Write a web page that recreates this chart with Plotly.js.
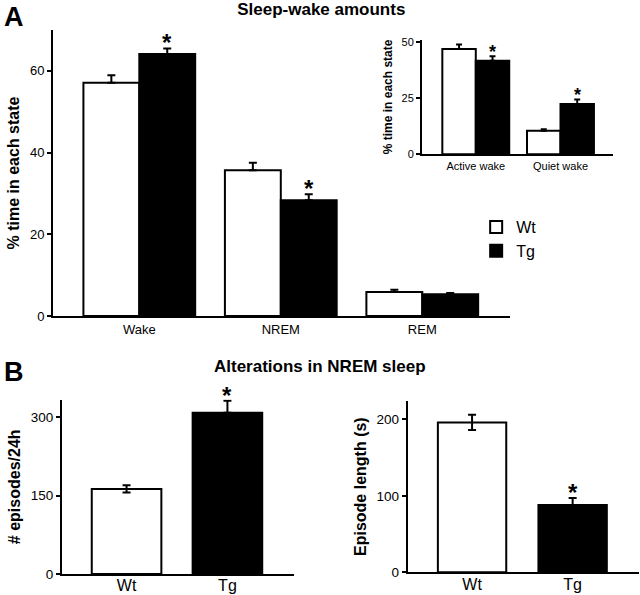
<!DOCTYPE html>
<html>
<head>
<meta charset="utf-8">
<script src="https://cdn.plot.ly/plotly-3.0.1.min.js"></script>
<style>html,body{margin:0;padding:0;background:#fff;}#chart{width:640px;height:595px;}</style>
</head>
<body>
<div id="chart"></div>
<script>
// ---- Panel A: sleep-wake amounts (% time in each state) ----
const statesA = ['Wake', 'NREM', 'REM'];
const wtA = [57.1, 35.7, 5.9];
const wtAErr = [1.8, 1.8, 0.5];
const tgA = [64.1, 28.3, 5.3];
const tgAErr = [1.4, 1.5, 0.3];
const sigA = [true, true, false];

// ---- Panel A inset: wake subtypes ----
const wakeTypes = ['Active wake', 'Quiet wake'];
const wtInset = [46.8, 10.5];
const wtInsetErr = [2.0, 0.6];
const tgInset = [41.6, 22.3];
const tgInsetErr = [2.0, 2.1];
const sigInset = [true, true];

// ---- Panel B: NREM alterations ----
const groupsB = ['Wt', 'Tg'];
const episodes = [163, 309];
const episodesErr = [7, 23];
const episodesErrMinus = [7, 0];
const epLength = [196, 88];
const epLengthErr = [10, 9];
const epLengthErrMinus = [10, 0];
const sigB = [false, true];

const FONT = 'Liberation Sans, Arial, Helvetica, sans-serif';
const zeros = a => a.map(() => 0);

function errUp(arr, minus, w) {
  return {type: 'data', array: arr, arrayminus: minus || zeros(arr), symmetric: false,
          color: 'black', thickness: 2, width: w || 4, visible: true};
}

const traces = [
  {type: 'bar', name: 'Wt', x: statesA, y: wtA, xaxis: 'x', yaxis: 'y',
   marker: {color: 'white', line: {color: 'black', width: 2}},
   error_y: errUp(wtAErr), showlegend: true, hoverinfo: 'skip'},
  {type: 'bar', name: 'Tg', x: statesA, y: tgA, xaxis: 'x', yaxis: 'y',
   marker: {color: 'black', line: {color: 'black', width: 2}},
   error_y: errUp(tgAErr), showlegend: true, hoverinfo: 'skip'},
  {type: 'bar', name: 'Wt', x: wakeTypes, y: wtInset, xaxis: 'x2', yaxis: 'y2',
   marker: {color: 'white', line: {color: 'black', width: 2}},
   error_y: errUp(wtInsetErr, null, 3), showlegend: false, hoverinfo: 'skip'},
  {type: 'bar', name: 'Tg', x: wakeTypes, y: tgInset, xaxis: 'x2', yaxis: 'y2',
   marker: {color: 'black', line: {color: 'black', width: 2}},
   error_y: errUp(tgInsetErr, null, 3), showlegend: false, hoverinfo: 'skip'},
  {type: 'bar', x: groupsB, y: episodes, xaxis: 'x3', yaxis: 'y3', width: 0.69,
   marker: {color: ['white', 'black'], line: {color: 'black', width: 2}},
   error_y: errUp(episodesErr, episodesErrMinus), showlegend: false, hoverinfo: 'skip'},
  {type: 'bar', x: groupsB, y: epLength, xaxis: 'x4', yaxis: 'y4', width: 0.68,
   marker: {color: ['white', 'black'], line: {color: 'black', width: 2}},
   error_y: errUp(epLengthErr, epLengthErrMinus), showlegend: false, hoverinfo: 'skip'}
];

const bargap = 0.21;
const half = (1 - bargap) / 4; // offset of each bar within a two-bar group

const annotations = [];
function star(xref, yref, x, y, size, yshift) {
  annotations.push({xref: xref, yref: yref, x: x, y: y, text: '<b>*</b>', showarrow: false,
    yanchor: 'bottom', xanchor: 'center', yshift: yshift,
    font: {family: FONT, size: size, color: 'black'}});
}
statesA.forEach((c, i) => { if (sigA[i]) star('x', 'y', i + half, tgA[i] + tgAErr[i], 24, -10); });
wakeTypes.forEach((c, i) => { if (sigInset[i]) star('x2', 'y2', i + half, tgInset[i] + tgInsetErr[i], 18, -8); });
groupsB.forEach((c, i) => { if (sigB[i]) star('x3', 'y3', i, episodes[i] + episodesErr[i], 24, -10); });
groupsB.forEach((c, i) => { if (sigB[i]) star('x4', 'y4', i, epLength[i] + epLengthErr[i], 24, -10); });

// Panel letters and panel B title
annotations.push({xref: 'paper', yref: 'paper', x: 0.003, y: 1.0, xanchor: 'left', yanchor: 'top',
  text: '<b>A</b>', showarrow: false, font: {family: FONT, size: 27, color: 'black'}});
annotations.push({xref: 'paper', yref: 'paper', x: 0.003, y: 1 - 355 / 595, xanchor: 'left', yanchor: 'top',
  text: '<b>B</b>', showarrow: false, font: {family: FONT, size: 27, color: 'black'}});
annotations.push({xref: 'paper', yref: 'paper', x: 0.5, y: 1 - 366 / 595, xanchor: 'center', yanchor: 'middle',
  text: '<b>Alterations in NREM sleep</b>', showarrow: false, font: {family: FONT, size: 17, color: 'black'}});

function yax(domain, range, tickvals, title, tsize, fsize, anchor) {
  return {domain: domain, range: range, tickvals: tickvals, anchor: anchor, ticks: 'outside', ticklen: 4, tickwidth: 2,
    tickcolor: 'black', showline: true, linewidth: 2, linecolor: 'black', showgrid: false, zeroline: false,
    tickfont: {family: FONT, size: fsize, color: 'black'},
    title: {text: '<b>' + title + '</b>', font: {family: FONT, size: tsize, color: 'black'}, standoff: 6},
    fixedrange: true};
}
function xax(domain, range, fsize, anchor) {
  return {domain: domain, range: range, type: 'category', anchor: anchor, ticks: '', showline: true,
    linewidth: 2, linecolor: 'black', showgrid: false, zeroline: false,
    tickfont: {family: FONT, size: fsize, color: 'black'}, fixedrange: true};
}

const layout = {
  width: 640, height: 595,
  margin: {l: 0, r: 0, t: 0, b: 0},
  paper_bgcolor: 'white', plot_bgcolor: 'white',
  font: {family: FONT, color: 'black'},
  title: {text: '<b>Sleep-wake amounts</b>', x: 0.502, xanchor: 'center', y: 1 - 9 / 595, yanchor: 'middle',
          font: {family: FONT, size: 17, color: 'black'}},
  barmode: 'group', bargap: bargap, bargroupgap: 0,
  showlegend: true,
  legend: {x: 0.744, y: 1 - 210 / 595, xanchor: 'left', yanchor: 'top', bgcolor: 'rgba(0,0,0,0)',
           font: {family: FONT, size: 16, color: 'black'}, itemwidth: 30, tracegroupgap: 0},
  xaxis: xax([53 / 640, 510 / 640], [-0.61, 2.62], 13, 'y'),
  yaxis: yax([1 - 316 / 595, 1 - 30 / 595], [0, 70], [0, 20, 40, 60], '% time in each state', 16, 13, 'x'),
  xaxis2: xax([422 / 640, 613 / 640], [-0.635, 1.62], 11, 'y2'),
  yaxis2: yax([1 - 154.3 / 595, 1 - 39.5 / 595], [0, 51], [0, 25, 50], '% time in each state', 12, 11, 'x2'),
  xaxis3: xax([62 / 640, 294 / 640], [-0.64, 1.66], 16, 'y3'),
  yaxis3: yax([1 - 574 / 595, 1 - 399.6 / 595], [0, 334], [0, 150, 300], '# episodes/24h', 16, 13.5, 'x3'),
  xaxis4: xax([407.7 / 640, 639 / 640], [-0.64, 1.66], 16, 'y4'),
  yaxis4: yax([1 - 572.3 / 595, 1 - 401 / 595], [0, 224], [0, 100, 200], 'Episode length (s)', 16, 13.5, 'x4'),
  annotations: annotations
};
layout.xaxis3.ticklabelstandoff = -4;
layout.xaxis4.ticklabelstandoff = -4;

Plotly.newPlot('chart', traces, layout, {staticPlot: true, displayModeBar: false});
</script>
</body>
</html>
